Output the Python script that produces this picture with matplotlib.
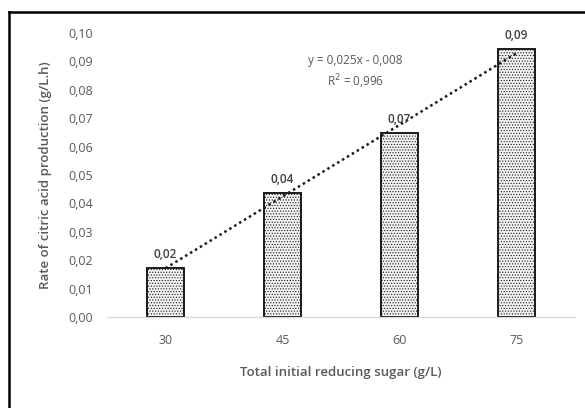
import numpy as np
import matplotlib
matplotlib.use('Agg')
import matplotlib.pyplot as plt
from matplotlib.lines import Line2D

plt.rcParams['font.family'] = ['Open Sans', 'DejaVu Sans']
plt.rcParams['hatch.color'] = '#bdbdbd'
plt.rcParams['hatch.linewidth'] = 0.5

# data
sugar = ['30', '45', '60', '75']
rate = [0.0173, 0.0437, 0.0648, 0.0944]
bar_labels = ['0,02', '0,04', '0,07', '0,09']
yticks = [0.00, 0.01, 0.02, 0.03, 0.04, 0.05, 0.06, 0.07, 0.08, 0.09, 0.10]
ytick_labels = ['0,00', '0,01', '0,02', '0,03', '0,04', '0,05', '0,06', '0,07', '0,08', '0,09', '0,10']
eq_text = 'y = 0,025x - 0,008\nR$^2$ = 0,996'

fig = plt.figure(figsize=(5.85, 4.08), dpi=100)
ax = fig.add_axes([0.183, 0.223, 0.8, 0.696])

x = np.arange(1, len(sugar) + 1)
bars = ax.bar(x, rate, width=0.32, facecolor='#f2f2f2', edgecolor='#1a1a1a',
              linewidth=1.4, hatch='......', zorder=2)

for xi, v, lab in zip(x, rate, bar_labels):
    ax.text(xi, v + 0.0025, lab, ha='center', va='bottom', fontsize=8.5,
            color='#404040', fontweight='semibold', zorder=4)

# linear trendline
k, b = np.polyfit(x, rate, 1)
ax.plot(x[[0, -1]], k * x[[0, -1]] + b, color='#1a1a1a', linestyle=(0, (1, 1.3)),
        linewidth=1.8, zorder=3)
ax.text(2.62, 0.0925, eq_text, ha='center', va='top', fontsize=8.5,
        color='#595959', fontweight='medium', linespacing=1.35)

ax.set_xlim(0.5, 4.5)
ax.set_ylim(0, 0.10)
ax.set_xticks(x)
ax.set_xticklabels(sugar)
ax.set_yticks(yticks)
ax.set_yticklabels(ytick_labels)
ax.tick_params(length=0, labelsize=9, labelcolor='#595959', pad=10)
ax.tick_params(axis='x', pad=12)
for lab in ax.get_xticklabels() + ax.get_yticklabels():
    lab.set_fontweight('medium')
for s in ['top', 'right', 'left']:
    ax.spines[s].set_visible(False)
ax.spines['bottom'].set_color('#d9d9d9')
ax.spines['bottom'].set_linewidth(0.9)

ax.set_xlabel('Total initial reducing sugar (g/L)', fontsize=9.5, color='#595959',
              fontweight='semibold', labelpad=14)
ax.set_ylabel('Rate of citric acid production (g/L.h)', fontsize=9.5, color='#595959',
              fontweight='semibold', labelpad=12)

# frame lines on left and top
fig.add_artist(Line2D([9 / 585, 9 / 585], [0, 1 - 12 / 408], color='black', linewidth=1.8))
fig.add_artist(Line2D([9 / 585, 1], [1 - 12 / 408, 1 - 12 / 408], color='black', linewidth=1.8))

fig.savefig('out.png', dpi=100)
